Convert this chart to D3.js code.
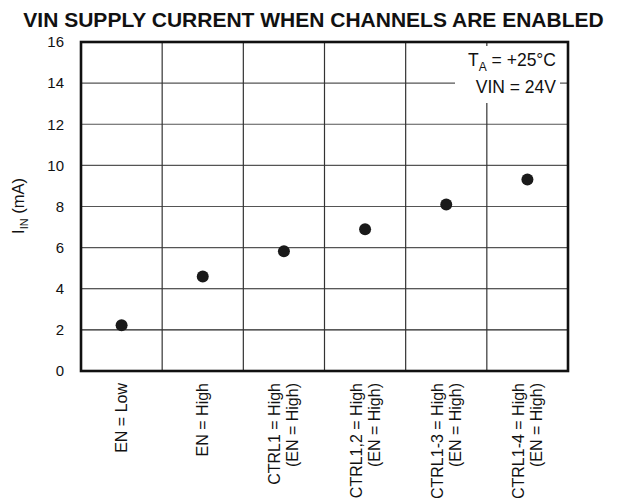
<!DOCTYPE html>
<html>
<head>
<meta charset="utf-8">
<script src="https://cdn.jsdelivr.net/npm/d3@7"></script>
<style>
  body { margin: 0; background: #fff; }
  svg text { font-family: "Liberation Sans", Arial, Helvetica, sans-serif; fill: #111; }
</style>
</head>
<body>
<div id="chart"></div>
<script>
// categories (each label can have two lines)
const categories = [
    ["EN = Low"],
    ["EN = High"],
    ["CTRL1 = High", "(EN = High)"],
    ["CTRL1,2 = High", "(EN = High)"],
    ["CTRL1-3 = High", "(EN = High)"],
    ["CTRL1-4 = High", "(EN = High)"]
];
// supply current in mA
const currentMA = [2.22, 4.6, 5.82, 6.89, 8.1, 9.31];
const yTicks = [0, 2, 4, 6, 8, 10, 12, 14, 16];

const width = 617, height = 498;
const margin = {left: 81, right: 49, top: 42, bottom: 127};
const w = width - margin.left - margin.right,
      h = height - margin.top - margin.bottom;

const svg = d3.select("#chart").append("svg")
    .attr("width", width)
    .attr("height", height);

// title
svg.append("text")
    .attr("x", 313.5)
    .attr("y", 27)
    .attr("text-anchor", "middle")
    .attr("font-size", 21)
    .attr("font-weight", "bold")
    .text("VIN SUPPLY CURRENT WHEN CHANNELS ARE ENABLED");

const g = svg.append("g").attr("transform", `translate(${margin.left},${margin.top})`);

const x = d3.scaleBand().domain(d3.range(categories.length)).range([0, w]);
const y = d3.scaleLinear().domain([0, 16]).range([h, 0]);

// horizontal grid
g.append("g")
    .selectAll("line").data(yTicks.slice(1, -1)).enter()
    .append("line")
    .attr("x1", 0).attr("x2", w)
    .attr("y1", d => y(d)).attr("y2", d => y(d))
    .attr("stroke", d => d <= 4 ? "#222" : "#555")
    .attr("stroke-width", 1.2);

// vertical grid
g.append("g")
    .selectAll("line").data(d3.range(1, categories.length)).enter()
    .append("line")
    .attr("x1", d => x(d)).attr("x2", d => x(d))
    .attr("y1", 0).attr("y2", h)
    .attr("stroke", "#333")
    .attr("stroke-width", 1.2);

// conditions box (white background hides grid)
g.append("rect")
    .attr("x", 374).attr("y", 4)
    .attr("width", 105).attr("height", 57)
    .attr("fill", "#fff");
const note = g.append("text")
    .attr("text-anchor", "end")
    .attr("font-size", 17.5);
note.append("tspan").attr("x", 475).attr("y", 24).text("T");
note.append("tspan").attr("font-size", 12).attr("dy", 5).text("A");
note.append("tspan").attr("dy", -5).text(" = +25°C");
g.append("text")
    .attr("x", 475).attr("y", 50.5)
    .attr("text-anchor", "end")
    .attr("font-size", 17.5)
    .text("VIN = 24V");

// y axis
const yAxis = d3.axisLeft(y).tickValues(yTicks).tickSize(0).tickPadding(17);
g.append("g")
    .call(yAxis)
    .call(s => s.select(".domain").remove())
    .selectAll("text")
    .attr("font-size", 15)
    .attr("font-family", "Liberation Sans, Arial, sans-serif")
    .attr("fill", "#111");

// y label
const yl = svg.append("text")
    .attr("transform", "translate(24,206) rotate(-90)")
    .attr("text-anchor", "middle")
    .attr("font-size", 16.5);
yl.append("tspan").text("I");
yl.append("tspan").attr("font-size", 11).attr("dy", 4).text("IN");
yl.append("tspan").attr("dy", -4).text(" (mA)");

// x labels
const xl = g.append("g").selectAll("g").data(categories).enter()
    .append("g")
    .attr("transform", (d, i) => `translate(${x(i) + x.bandwidth() / 2},${h + 12}) rotate(-90)`);
xl.each(function (lines) {
    const t = d3.select(this).append("text")
        .attr("text-anchor", "end")
        .attr("font-size", 16);
    const off = (lines.length - 1) * 9;
    lines.forEach((s, k) => {
        t.append("tspan")
            .attr("x", 0)
            .attr("y", -off + k * 18 + 5.5)
            .text(s);
    });
});

// frame
g.append("rect")
    .attr("width", w).attr("height", h)
    .attr("fill", "none")
    .attr("stroke", "#111")
    .attr("stroke-width", 2.6);

// points
g.append("g").selectAll("circle").data(currentMA).enter()
    .append("circle")
    .attr("cx", (d, i) => x(i) + x.bandwidth() / 2)
    .attr("cy", d => y(d))
    .attr("r", 6)
    .attr("fill", "#1a1a1a");
</script>
</body>
</html>
